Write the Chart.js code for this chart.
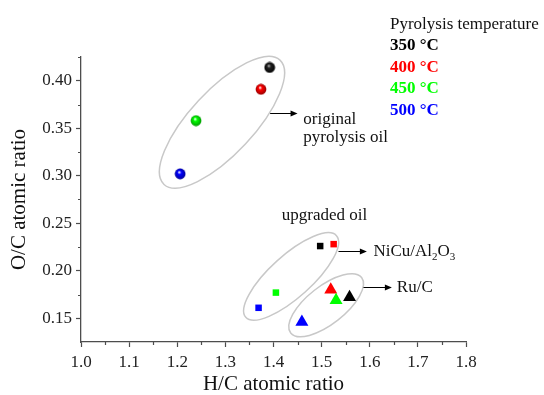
<!DOCTYPE html>
<html>
<head>
<meta charset="utf-8">
<script src="https://cdn.jsdelivr.net/npm/chart.js@4.4.1/dist/chart.umd.min.js"></script>
<style>
  html, body { margin: 0; padding: 0; background: #fff; }
  #wrap { width: 544px; height: 395px; }
</style>
</head>
<body>
<div id="wrap"><canvas id="chart-hc-oc"></canvas></div>
<script>
// pyrolysis temperatures and their colours
const temps = ['350 °C', '400 °C', '450 °C', '500 °C'];
const tempColors = ['#000000', '#ff0000', '#00ff00', '#0000ff'];

// original pyrolysis oil
const oilHC = [1.392, 1.374, 1.239, 1.206];
const oilOC = [0.414, 0.391, 0.358, 0.302];
// upgraded over NiCu/Al2O3
const nicuHC = [1.497, 1.525, 1.405, 1.369];
const nicuOC = [0.226, 0.228, 0.177, 0.161];
// upgraded over Ru/C
const rucHC = [1.558, 1.519, 1.530, 1.459];
const rucOC = [0.172, 0.180, 0.169, 0.146];

const xTicks = [1.0, 1.1, 1.2, 1.3, 1.4, 1.5, 1.6, 1.7, 1.8];
const yTicks = [0.15, 0.20, 0.25, 0.30, 0.35, 0.40];
const xMinor = [1.05, 1.15, 1.25, 1.35, 1.45, 1.55, 1.65, 1.75];
const yMinor = [0.175, 0.225, 0.275, 0.325, 0.375, 0.425];

const serif = '"Liberation Serif", "Times New Roman", serif';
Chart.defaults.font.family = serif;

// grey loops around each group, centre in data units, radii in px
const loops = [
    { x: 1.293, y: 0.3563, rx: 85, ry: 32, tilt: -47 },
    { x: 1.4366, y: 0.194, rx: 61, ry: 21, tilt: -42 },
    { x: 1.5094, y: 0.1637, rx: 45, ry: 19, tilt: -38 }
];
const arrows = [
    { x1: 1.393, x2: 1.450, y: 0.366 },
    { x1: 1.535, x2: 1.594, y: 0.2203 },
    { x1: 1.587, x2: 1.646, y: 0.1828 }
];
const notes = [
    { x: 1.462, y: 0.3547, parts: [['original']] },
    { x: 1.462, y: 0.3358, parts: [['pyrolysis oil']] },
    { x: 1.4173, y: 0.253, parts: [['upgraded oil']] },
    { x: 1.6077, y: 0.2151, parts: [['NiCu/Al'], ['2', 1], ['O'], ['3', 1]] },
    { x: 1.6563, y: 0.1772, parts: [['Ru/C']] }
];

function darker(hex, f) {
    const n = parseInt(hex.slice(1), 16);
    const r = Math.round(((n >> 16) & 255) * f);
    const g = Math.round(((n >> 8) & 255) * f);
    const b = Math.round((n & 255) * f);
    return 'rgb(' + r + ',' + g + ',' + b + ')';
}

// small shaded ball used as point style for the raw oils
function sphere(color) {
    const c = document.createElement('canvas');
    c.width = 12; c.height = 12;
    const g = c.getContext('2d');
    const grad = g.createRadialGradient(5, 4.2, 0.2, 6, 6, 6);
    grad.addColorStop(0, color === '#000000' ? '#bbbbbb' : '#ffffff');
    grad.addColorStop(0.3, color === '#000000' ? '#222222' : color);
    grad.addColorStop(1, darker(color, 0.55));
    g.fillStyle = grad;
    g.beginPath();
    g.arc(6, 6, 5.4, 0, Math.PI * 2);
    g.fill();
    return c;
}

function pts(xs, ys) {
    return xs.map((x, i) => ({ x: x, y: ys[i] }));
}

function drawRuns(ctx, x, y, parts, size) {
    parts.forEach(p => {
        const sub = p[1] === 1;
        ctx.font = (sub ? Math.round(size * 0.65) : size) + 'px ' + serif;
        ctx.fillText(p[0], x, sub ? y + 4 : y);
        x += ctx.measureText(p[0]).width;
    });
}

const decorations = {
    id: 'decorations',
    beforeDatasetsDraw(chart) {
        const ctx = chart.ctx;
        const xs = chart.scales.x, ys = chart.scales.y;
        ctx.save();
        ctx.strokeStyle = '#c8c8c8';
        ctx.lineWidth = 1.5;
        loops.forEach(l => {
            ctx.beginPath();
            ctx.ellipse(xs.getPixelForValue(l.x), ys.getPixelForValue(l.y), l.rx, l.ry,
                l.tilt * Math.PI / 180, 0, Math.PI * 2);
            ctx.stroke();
        });
        ctx.restore();
    },
    afterDraw(chart) {
        const ctx = chart.ctx;
        const xs = chart.scales.x, ys = chart.scales.y;
        const area = chart.chartArea;
        ctx.save();

        // minor ticks
        ctx.strokeStyle = '#4d4d4d';
        ctx.lineWidth = 1.2;
        ctx.beginPath();
        xMinor.forEach(v => {
            const px = Math.round(xs.getPixelForValue(v)) + 0.5;
            ctx.moveTo(px, area.bottom);
            ctx.lineTo(px, area.bottom + 3);
        });
        yMinor.forEach(v => {
            const py = Math.round(ys.getPixelForValue(v)) + 0.5;
            ctx.moveTo(area.left - 3, py);
            ctx.lineTo(area.left, py);
        });
        ctx.stroke();

        // arrows
        ctx.strokeStyle = '#000';
        ctx.fillStyle = '#000';
        ctx.lineWidth = 1;
        arrows.forEach(a => {
            const x1 = xs.getPixelForValue(a.x1), x2 = xs.getPixelForValue(a.x2);
            const y = Math.round(ys.getPixelForValue(a.y)) + 0.5;
            ctx.beginPath();
            ctx.moveTo(x1, y);
            ctx.lineTo(x2 - 5, y);
            ctx.stroke();
            ctx.beginPath();
            ctx.moveTo(x2, y);
            ctx.lineTo(x2 - 7, y - 3);
            ctx.lineTo(x2 - 7, y + 3);
            ctx.closePath();
            ctx.fill();
        });

        // text notes
        ctx.textBaseline = 'alphabetic';
        ctx.textAlign = 'left';
        ctx.fillStyle = '#111';
        notes.forEach(n => {
            drawRuns(ctx, xs.getPixelForValue(n.x), ys.getPixelForValue(n.y), n.parts, 17);
        });

        // temperature key
        ctx.font = '17px ' + serif;
        ctx.fillStyle = '#111';
        ctx.fillText('Pyrolysis temperature', 390, 28.5);
        ctx.font = 'bold 17px ' + serif;
        temps.forEach((t, i) => {
            ctx.fillStyle = tempColors[i];
            ctx.fillText(t, 390, 50 + i * 21.5);
        });
        ctx.restore();
    }
};

const axisLine = '#4d4d4d';

new Chart(document.getElementById('chart-hc-oc'), {
    type: 'scatter',
    data: {
        datasets: [{
            label: 'original pyrolysis oil',
            data: pts(oilHC, oilOC),
            pointStyle: tempColors.map(sphere),
            pointRadius: 6,
            pointHoverRadius: 6
        }, {
            label: 'NiCu/Al2O3',
            data: pts(nicuHC, nicuOC),
            pointStyle: 'rect',
            pointRadius: 4.6,
            pointHoverRadius: 4.6,
            pointBackgroundColor: tempColors,
            pointBorderWidth: 0
        }, {
            label: 'Ru/C',
            data: pts(rucHC, rucOC),
            pointStyle: 'triangle',
            pointRadius: 7.5,
            pointHoverRadius: 7.5,
            pointBackgroundColor: tempColors,
            pointBorderWidth: 0
        }]
    },
    options: {
        responsive: true,
        maintainAspectRatio: false,
        animation: false,
        layout: { padding: { left: 0, top: 57, right: 78, bottom: 0 } },
        plugins: {
            legend: { display: false },
            tooltip: { enabled: false }
        },
        scales: {
            x: {
                type: 'linear',
                min: 1.0,
                max: 1.8,
                afterBuildTicks: s => { s.ticks = xTicks.map(v => ({ value: v })); },
                afterFit: s => { s.height = 53; },
                grid: { drawOnChartArea: false, tickLength: 5, tickColor: axisLine, tickWidth: 1.2 },
                border: { color: axisLine, width: 1.3 },
                ticks: {
                    padding: 5,
                    color: '#222',
                    font: { family: serif, size: 17 },
                    maxRotation: 0,
                    callback: v => Number(v).toFixed(1)
                },
                title: {
                    display: true,
                    text: 'H/C atomic ratio',
                    color: '#111',
                    font: { family: serif, size: 21, lineHeight: 1.0 },
                    padding: { top: 0, bottom: 0 }
                }
            },
            y: {
                type: 'linear',
                min: 0.125,
                max: 0.425,
                afterBuildTicks: s => { s.ticks = yTicks.map(v => ({ value: v })); },
                afterFit: s => { s.width = 81; },
                grid: { drawOnChartArea: false, tickLength: 5, tickColor: axisLine, tickWidth: 1.2 },
                border: { color: axisLine, width: 1.3 },
                ticks: {
                    padding: 4,
                    color: '#222',
                    font: { family: serif, size: 17 },
                    callback: v => Number(v).toFixed(2)
                },
                title: {
                    display: true,
                    text: 'O/C atomic ratio',
                    color: '#111',
                    font: { family: serif, size: 21, lineHeight: 1.0 },
                    padding: { top: 9, bottom: 0 }
                }
            }
        }
    },
    plugins: [decorations]
});
</script>
</body>
</html>
